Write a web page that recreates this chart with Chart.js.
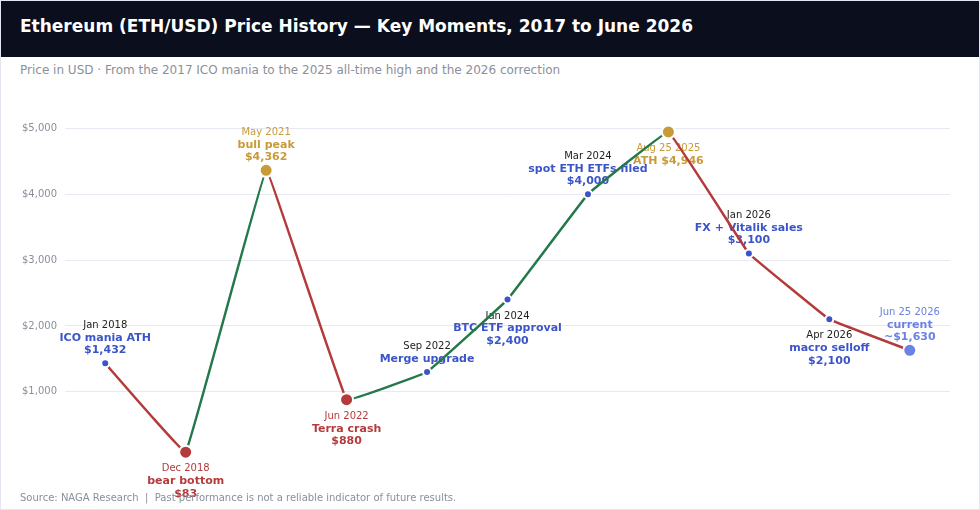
<!DOCTYPE html>
<html>
<head>
<meta charset="utf-8">
<script src="https://cdn.jsdelivr.net/npm/chart.js@4.4.1/dist/chart.umd.min.js"></script>
<style>
  html, body { margin: 0; padding: 0; background: #fff; }
  body { font-family: "DejaVu Sans", sans-serif; }
  #card { position: relative; width: 980px; height: 510px; box-sizing: border-box; border: 1px solid #e3e6f0; overflow: hidden; }
  #head { position: absolute; left: -1px; top: -1px; width: 980px; height: 57px; background: #0b0e1c; }
  #head h1 { margin: 0; padding: 16px 0 0 20px; font-size: 17px; line-height: 20px; color: #fff; font-weight: bold; }
  #sub { position: absolute; left: 19px; top: 61px; font-size: 12px; line-height: 16px; color: #8a8f9c; }
  #wrap { position: absolute; left: -1px; top: 79px; width: 980px; height: 418px; }
  #foot { position: absolute; left: 19px; top: 490px; font-size: 10px; line-height: 14px; color: #8a8f9c; white-space: pre; background: transparent; }
</style>
</head>
<body>
<div id="card">
  <div id="head"><h1>Ethereum (ETH/USD) Price History — Key Moments, 2017 to June 2026</h1></div>
  <div id="sub">Price in USD · From the 2017 ICO mania to the 2025 all-time high and the 2026 correction</div>
  <div id="wrap"><canvas id="ethChart"></canvas></div>
  <div id="foot">Source: NAGA Research  |  Past performance is not a reliable indicator of future results.</div>
</div>
<script>
// key moments, in order
const dates = ['Jan 2018', 'Dec 2018', 'May 2021', 'Jun 2022', 'Sep 2022', 'Jan 2024', 'Mar 2024', 'Aug 25 2025', 'Jan 2026', 'Apr 2026', 'Jun 25 2026']
const prices = [1432, 83, 4362, 880, 1300, 2400, 4000, 4946, 3100, 2100, 1630]
const events = ['ICO mania ATH', 'bear bottom', 'bull peak', 'Terra crash', 'Merge upgrade', 'BTC ETF approval', 'spot ETH ETFs filed', 'ATH $4,946', 'FX + Vitalik sales', 'macro selloff', 'current']
const priceText = ['$1,432', '$83', '$4,362', '$880', '', '$2,400', '$4,000', '', '$3,100', '$2,100', '~$1,630']
const kinds = ['event', 'low', 'high', 'low', 'event', 'event', 'event', 'high', 'event', 'event', 'now']
const below = [false, true, false, true, false, true, false, true, false, true, false]
const yTicks = [1000, 2000, 3000, 4000, 5000]

const RED = '#b43b3b'
const GREEN = '#24794a'
const kindColor = { event: '#3b55c9', low: '#b43b3b', high: '#c99a38', now: '#6a82e2' }
const big = k => k !== 'event'

const eventLabels = {
    id: 'eventLabels',
    beforeDatasetsDraw(chart) {
        const ctx = chart.ctx
        const meta = chart.getDatasetMeta(0)
        ctx.save()
        ctx.textAlign = 'center'
        ctx.textBaseline = 'middle'
        meta.data.forEach((pt, i) => {
            const col = kindColor[kinds[i]]
            const dateCol = kinds[i] === 'event' ? '#222' : col
            const lines = [
                { t: dates[i], f: '10px "DejaVu Sans"', c: dateCol },
                { t: events[i], f: 'bold 11px "DejaVu Sans"', c: col },
            ]
            if (priceText[i]) lines.push({ t: priceText[i], f: 'bold 11px "DejaVu Sans"', c: col })
            let y
            if (below[i]) {
                y = pt.y + 16.5
            } else {
                y = pt.y - 13 - (lines.length - 1) * 12.5
            }
            lines.forEach((l, j) => {
                ctx.font = l.f
                ctx.fillStyle = l.c
                ctx.fillText(l.t, pt.x, y + j * 12.5)
            })
        })
        ctx.restore()
    }
}

new Chart('ethChart', {
    type: 'line',
    data: {
        labels: dates,
        datasets: [{
            label: 'ETH/USD',
            data: prices,
            borderWidth: 2.5,
            tension: 0.04,
            segment: {
                borderColor: c => c.p1.parsed.y < c.p0.parsed.y ? RED : GREEN,
            },
            pointBackgroundColor: c => kindColor[kinds[c.dataIndex]],
            pointBorderColor: '#fff',
            pointBorderWidth: 2,
            pointRadius: c => big(kinds[c.dataIndex]) ? 6.5 : 4,
            pointHoverRadius: c => big(kinds[c.dataIndex]) ? 6.5 : 4,
        }],
    },
    options: {
        responsive: true,
        maintainAspectRatio: false,
        animation: false,
        layout: { padding: { top: 22, right: 30, bottom: 6, left: 0 } },
        plugins: {
            legend: { display: false },
            tooltip: { enabled: false },
        },
        scales: {
            x: {
                display: false,
                offset: true,
            },
            y: {
                min: -400,
                max: 5400,
                border: { display: false },
                grid: { color: '#e6e8f2', drawTicks: false },
                ticks: {
                    padding: 8,
                    color: '#8a8f9c',
                    font: { family: 'DejaVu Sans', size: 10 },
                    callback: v => '$' + v.toLocaleString('en-US'),
                },
                afterBuildTicks: s => { s.ticks = yTicks.map(v => ({ value: v })) },
                afterFit: s => { s.width = 65 },
            },
        },
    },
    plugins: [eventLabels],
})
</script>
</body>
</html>
